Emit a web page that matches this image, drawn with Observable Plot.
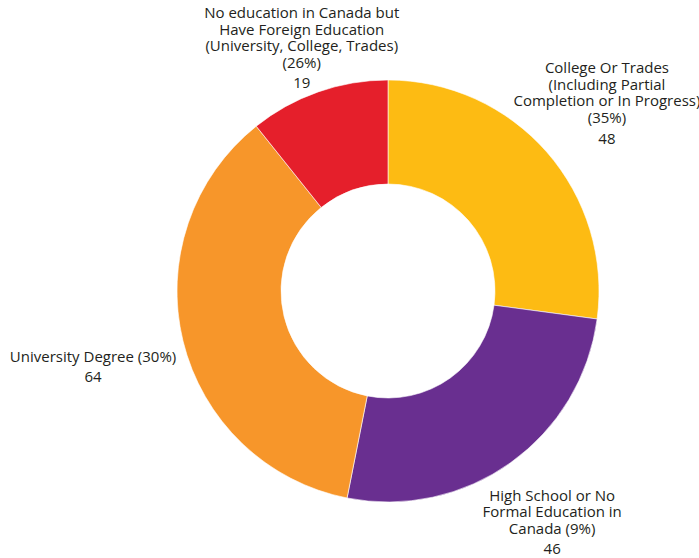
<!DOCTYPE html>
<html>
<head>
<meta charset="utf-8">
<script src="https://cdn.jsdelivr.net/npm/d3@7"></script>
<script src="https://cdn.jsdelivr.net/npm/@observablehq/plot@0.6"></script>
<style>
  html, body { margin: 0; padding: 0; background: #fff; }
  #chart svg { display: block; }
</style>
</head>
<body>
<div id="chart"></div>
<script>
// ---- data ----
const categories = [
  "College Or Trades\n(Including Partial\nCompletion or In Progress)\n(35%)",
  "High School or No\nFormal Education in\nCanada (9%)",
  "University Degree (30%)",
  "No education in Canada but\nHave Foreign Education\n(University, College, Trades)\n(26%)"
];
const values = [48, 46, 64, 19];
const colors = ["#FDBB13", "#692F90", "#F7962A", "#E51F2B"];

// ---- layout (not data) ----
const W = 699, H = 558;
const cx = 388, cy = 291, R = 211;       // pixel centre and outer radius
const innerRatio = 0.507;
const labelRadius = 1.3;
const labelNudge = [[12, 17], [4, 24], [-29, 10], [4, 40]]; // px
const fontFamily = "'Open Sans', 'Noto Sans', sans-serif";
const fontSize = 15;

const pie = d3.pie().sort(null).value(d => d.value);
const rows = categories.map((c, i) => ({name: c, value: values[i], color: colors[i], nudge: labelNudge[i]}));
const arcs = pie(rows).map(a => {
  const mid = (a.startAngle + a.endAngle) / 2;
  return {...a.data, startAngle: a.startAngle, endAngle: a.endAngle, padAngle: 0,
          lx: labelRadius * Math.sin(mid) + a.data.nudge[0] / R,
          ly: labelRadius * Math.cos(mid) - a.data.nudge[1] / R};
});

// x/y scales in units of the outer radius, centred on the donut
const xDomain = [-cx / R, (W - cx) / R];
const yDomain = [-(H - cy) / R, cy / R];

function donutMark(index, scales) {
  const x0 = scales.x(0), y0 = scales.y(0);
  const rOuter = scales.x(1) - x0;
  const arc = d3.arc().innerRadius(rOuter * innerRatio).outerRadius(rOuter);
  const g = d3.create("svg:g").attr("transform", `translate(${x0},${y0})`);
  g.selectAll("path").data(arcs).join("path")
    .attr("d", d => arc(d))
    .attr("fill", d => d.color)
    .attr("stroke", "#fff")
    .attr("stroke-width", 0.6);
  return g.node();
}

const chart = Plot.plot({
  width: W, height: H,
  margin: 0,
  x: {domain: xDomain, range: [0, W], axis: null},
  y: {domain: yDomain, range: [H, 0], axis: null},
  style: {fontFamily, fontSize: fontSize + "px", color: "#231F20", background: "#fff"},
  marks: [
    donutMark,
    Plot.text(arcs, {
      x: "lx", y: "ly", text: "name",
      lineAnchor: "bottom", lineHeight: 1.1, dy: -5,
      fill: "#231F20", fontSize: fontSize, textAnchor: "middle"
    }),
    Plot.text(arcs, {
      x: "lx", y: "ly", text: d => String(d.value),
      lineAnchor: "top", dy: 5,
      fill: "#231F20", fontSize: fontSize, textAnchor: "middle"
    })
  ]
});
document.getElementById("chart").appendChild(chart);
</script>
</body>
</html>
